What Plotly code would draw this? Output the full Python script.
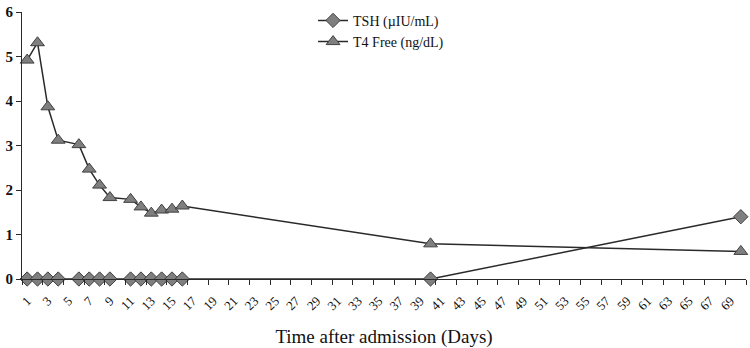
import plotly.graph_objects as go

days = [1, 2, 3, 4, 6, 7, 8, 9, 11, 12, 13, 14, 15, 16, 40, 70]
tsh = [0, 0, 0, 0, 0, 0, 0, 0, 0, 0, 0, 0, 0, 0, 0, 1.40]
t4_free = [4.92, 5.31, 3.87, 3.12, 3.02, 2.47, 2.11, 1.83, 1.79, 1.62, 1.48, 1.55, 1.57, 1.64, 0.79, 0.62]

category_days = list(range(1, 71))
tick_days = [d for d in category_days if d % 2 == 1]
tick_labels = [str(d) for d in tick_days]
boundary_ticks = [d + 0.5 for d in range(0, 71, 2)]
y_ticks = [0, 1, 2, 3, 4, 5, 6]

serif = "Liberation Serif"
line_col = "#2a2a2a"
fill_col = "#7f7f7f"

fig = go.Figure()
fig.add_trace(go.Scatter(
    x=days, y=tsh, mode="lines+markers", name="TSH (\u00b5IU/mL)", cliponaxis=False,
    line=dict(color=line_col, width=1.5),
    marker=dict(symbol="diamond", size=11, color=fill_col, line=dict(color="#404040", width=1)),
))
fig.add_trace(go.Scatter(
    x=days, y=t4_free, mode="lines+markers", name="T4 Free (ng/dL)", cliponaxis=False,
    line=dict(color=line_col, width=1.5),
    marker=dict(symbol="triangle-up", size=12, color=fill_col, line=dict(color="#404040", width=1)),
))
# invisible trace to activate overlay axis for boundary ticks
fig.add_trace(go.Scatter(x=[1], y=[0], xaxis="x2", mode="markers",
                         marker=dict(opacity=0), showlegend=False, hoverinfo="skip"))

fig.update_layout(
    width=750, height=348,
    margin=dict(l=22, r=4, t=8, b=66),
    paper_bgcolor="white", plot_bgcolor="white",
    font=dict(family=serif, color="#111"),
    showlegend=True,
    legend=dict(x=0.402, y=1.027, xanchor="left", yanchor="top",
                font=dict(family=serif, size=14, color="#111"),
                tracegroupgap=10, bgcolor="rgba(0,0,0,0)"),
    xaxis=dict(
        range=[0.5, 70.5], tickvals=tick_days, ticktext=tick_labels,
        tickangle=-45, ticks="", showgrid=False, zeroline=False,
        showline=True, linecolor=line_col, linewidth=1.2,
        tickfont=dict(family=serif, size=13, color="#111"),
        ticklabelstandoff=8,
        title=dict(text="Time after admission (Days)",
                   font=dict(family=serif, size=19, color="#111"), standoff=18),
    ),
    xaxis2=dict(
        range=[0.5, 70.5], overlaying="x", anchor="y", side="bottom",
        tickvals=boundary_ticks, ticks="outside", ticklen=5, tickcolor=line_col,
        showticklabels=False, showgrid=False, zeroline=False, showline=False,
    ),
    yaxis=dict(
        range=[0, 6.001], tickvals=y_ticks, ticks="outside", ticklen=5,
        tickcolor=line_col, showgrid=False, zeroline=False,
        showline=True, linecolor=line_col, linewidth=1.2,
        tickfont=dict(family=serif, size=15, color="#111", weight="bold"),
    ),
)

fig.write_html("out.html", config={"displayModeBar": False})

with open("out.html", "r", encoding="utf-8") as f:
    html = f.read()
html = html.replace("<head>", "<head><style>html,body{margin:0;padding:0;overflow:hidden;}</style>", 1)
with open("out.html", "w", encoding="utf-8") as f:
    f.write(html)
